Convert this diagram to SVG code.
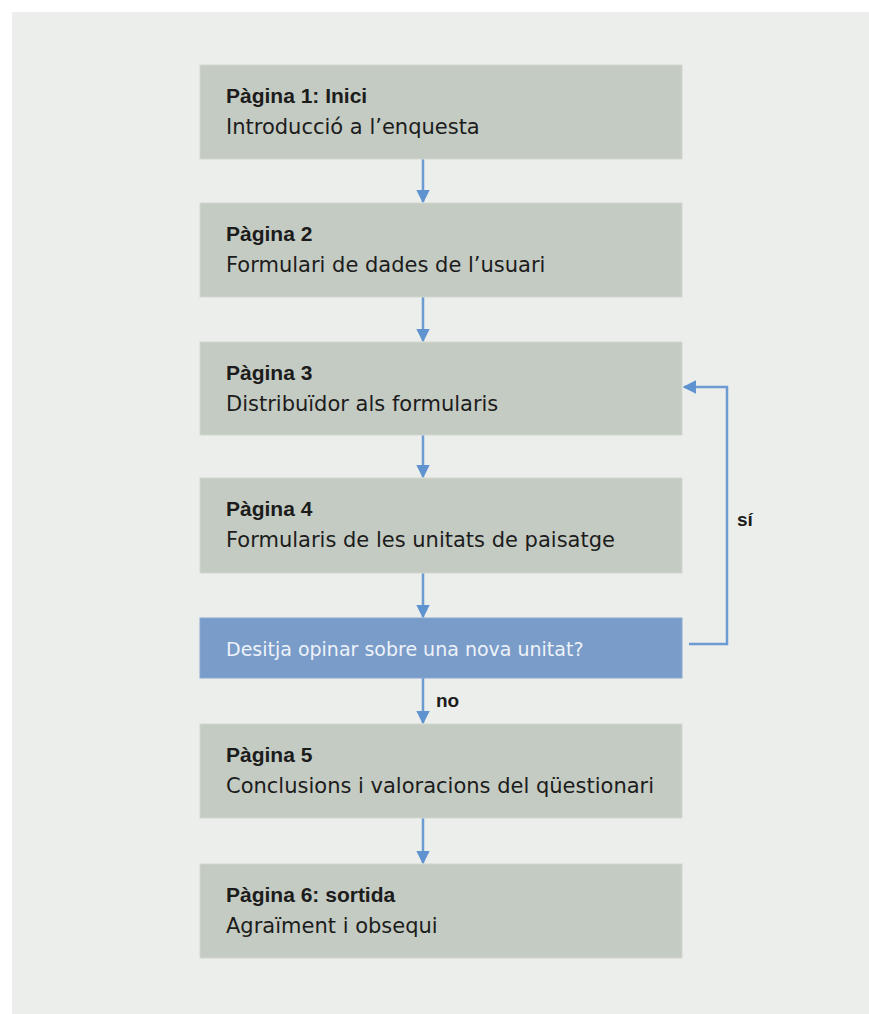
<svg xmlns="http://www.w3.org/2000/svg" width="869" height="1014" viewBox="0 0 869 1014">
<defs>
<style>
.bg{fill:#eceeeb}
.box{fill:#c4cbc2;stroke:#d2d7d0;stroke-width:1}
.dec{fill:#7a9cc9;stroke:#8aa8d0;stroke-width:1}
.t{font-family:"Liberation Sans",Arial,sans-serif;font-weight:bold;font-size:21px;fill:#1c1c1c}
.s{font-family:"DejaVu Sans",sans-serif;font-size:21px;fill:#1c1c1c}
.d{font-family:"DejaVu Sans",sans-serif;font-size:19px;fill:#eef2f9}
.lbl{font-family:"Liberation Sans",Arial,sans-serif;font-weight:bold;font-size:19px;fill:#1c1c1c}
.c{fill:none;stroke:#6b9bd2;stroke-width:2.5}
</style>
<marker id="ah" viewBox="0 0 10 10" refX="9" refY="5" markerWidth="5.5" markerHeight="5.5" orient="auto" markerUnits="strokeWidth">
<path d="M0,0 L10,5 L0,10 Z" fill="#5f93d0"/>
</marker>
</defs>
<rect class="bg" x="12" y="12" width="857" height="1002"/>
<g id="connectors">
<line class="c" x1="423" y1="159" x2="423" y2="202" marker-end="url(#ah)"/>
<line class="c" x1="423" y1="297" x2="423" y2="341" marker-end="url(#ah)"/>
<line class="c" x1="423" y1="435" x2="423" y2="477" marker-end="url(#ah)"/>
<line class="c" x1="423" y1="573" x2="423" y2="617" marker-end="url(#ah)"/>
<line class="c" x1="423" y1="678" x2="423" y2="723" marker-end="url(#ah)"/>
<line class="c" x1="423" y1="818" x2="423" y2="863" marker-end="url(#ah)"/>
<polyline class="c" points="689,644 727,644 727,387 684,387" marker-end="url(#ah)"/>
<text class="lbl" x="436" y="707">no</text>
<text class="lbl" x="737" y="526">sí</text>
</g>
<g id="n1">
<rect class="box" x="200" y="65" width="482" height="94"/>
<text class="t" x="226" y="103">Pàgina 1: Inici</text>
<text class="s" x="226" y="134">Introducció a l’enquesta</text>
</g>
<g id="n2">
<rect class="box" x="200" y="203" width="482" height="94"/>
<text class="t" x="226" y="241">Pàgina 2</text>
<text class="s" x="226" y="272">Formulari de dades de l’usuari</text>
</g>
<g id="n3">
<rect class="box" x="200" y="342" width="482" height="93"/>
<text class="t" x="226" y="380">Pàgina 3</text>
<text class="s" x="226" y="411">Distribuïdor als formularis</text>
</g>
<g id="n4">
<rect class="box" x="200" y="478" width="482" height="95"/>
<text class="t" x="226" y="516">Pàgina 4</text>
<text class="s" x="226" y="547">Formularis de les unitats de paisatge</text>
</g>
<g id="decision">
<rect class="dec" x="200" y="618" width="482" height="60"/>
<text class="d" x="226" y="656">Desitja opinar sobre una nova unitat?</text>
</g>
<g id="n5">
<rect class="box" x="200" y="724" width="482" height="94"/>
<text class="t" x="226" y="762">Pàgina 5</text>
<text class="s" x="226" y="793">Conclusions i valoracions del qüestionari</text>
</g>
<g id="n6">
<rect class="box" x="200" y="864" width="482" height="94"/>
<text class="t" x="226" y="902">Pàgina 6: sortida</text>
<text class="s" x="226" y="933">Agraïment i obsequi</text>
</g>
</svg>
